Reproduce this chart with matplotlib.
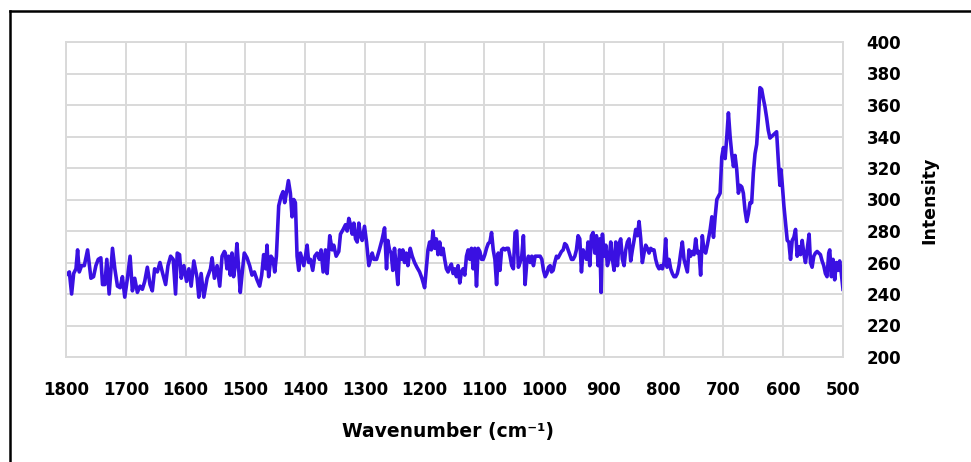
import matplotlib
matplotlib.use("Agg")
import matplotlib.pyplot as plt
from matplotlib.lines import Line2D

# spectrum, split into stretches of the x axis
wn_1800_1535 = [1800, 1794.4, 1790.6, 1787.2, 1783.3, 1780.6, 1777.8, 1773.9, 1769.4, 1763.9,
                1758.3, 1753.9, 1750, 1746.1, 1741.7, 1738.9, 1735, 1731.7, 1727.8, 1722.2,
                1718.3, 1713.9, 1709.4, 1705.6, 1701.7, 1697.2, 1692.8, 1688.9, 1685, 1680.6,
                1676.1, 1672.2, 1668.3, 1663.9, 1659.4, 1655.6, 1651.7, 1647.2, 1642.8, 1638.9,
                1633.3, 1629.4, 1625, 1620.6, 1616.7, 1613.9, 1610, 1607.2, 1602.8, 1598.3,
                1594.4, 1590.6, 1586.1, 1580.6, 1577.8, 1573.9, 1569.4, 1563.9, 1558.3, 1555.6,
                1551.7, 1547.2, 1542.8, 1538.9, 1535]
int_1800_1535 = [252, 254, 240, 253, 256, 268, 254, 258, 258, 268,
                 250, 251, 258, 262, 263, 246, 246, 262, 240, 269,
                 256, 245, 244, 251, 238, 250, 264, 242, 250, 241,
                 245, 243, 248, 257, 246, 242, 256, 254, 260, 254,
                 246, 258, 264, 262, 240, 266, 265, 250, 258, 248,
                 256, 245, 261, 250, 238, 253, 238, 250, 256, 263,
                 250, 258, 245, 264, 267]

wn_1535_1262 = [1533.5, 1530.7, 1527.9, 1525.1, 1522.3, 1519.6, 1516.8, 1514, 1511.2, 1508.4,
                1505.6, 1501.7, 1497.2, 1492.7, 1488.8, 1484.9, 1480.4, 1476, 1472.6, 1469.3,
                1465.9, 1463.7, 1460.9, 1457, 1453.6, 1450.8, 1448, 1444.1, 1440.2, 1436.9,
                1434.1, 1431.3, 1427.9, 1424.6, 1421.8, 1419, 1416.2, 1413.4, 1410.6, 1407.8,
                1405, 1402.2, 1399.4, 1396.6, 1393.9, 1391.1, 1387.2, 1383.8, 1379.9, 1376,
                1373.2, 1369.8, 1365.9, 1363.1, 1358.7, 1354.7, 1352, 1348, 1343.6, 1340.8,
                1336.3, 1332.4, 1329.6, 1326.8, 1324, 1321.2, 1318.4, 1315.6, 1312.8, 1310.1,
                1307.3, 1304.5, 1300.6, 1297.2, 1293.3, 1290.5, 1287.7, 1284.9, 1280.4, 1276.5,
                1270.9, 1267, 1263.7]
int_1535_1262 = [266, 256, 264, 252, 266, 251, 258, 272, 256, 241,
                 252, 266, 263, 258, 252, 254, 249, 245, 252, 265,
                 256, 271, 251, 264, 262, 254, 264, 296, 302, 305,
                 298, 304, 312, 304, 289, 300, 298, 264, 255, 266,
                 262, 258, 264, 271, 260, 262, 255, 264, 266, 262,
                 268, 254, 268, 253, 277, 268, 271, 264, 267, 278,
                 281, 284, 280, 288, 284, 278, 285, 275, 273, 285,
                 277, 274, 283, 273, 258, 262, 266, 262, 262, 267,
                 275, 282, 256]

wn_1262_990 = [1261.6, 1258.8, 1256, 1253.2, 1250.4, 1247.6, 1244.8, 1242, 1239.2, 1236.4,
               1233.6, 1230.8, 1228, 1224.1, 1220.7, 1216.8, 1212.9, 1208.4, 1204.5, 1200,
               1197.2, 1194.4, 1191.6, 1188.8, 1186, 1183.2, 1180.4, 1177.6, 1174.8, 1172,
               1169.2, 1166.4, 1163.6, 1160.8, 1158, 1155.2, 1152.4, 1149.6, 1146.8, 1144,
               1141.2, 1138.4, 1135.6, 1132.8, 1130, 1127.2, 1124.4, 1121.6, 1118.8, 1116,
               1113.2, 1110.4, 1107.6, 1104.8, 1102, 1099.2, 1096.4, 1093.6, 1090.8, 1088,
               1085.2, 1082.4, 1079.6, 1076.8, 1074, 1071.2, 1068.3, 1065.5, 1062.7, 1059.9,
               1057.1, 1054.3, 1051.5, 1048.7, 1045.9, 1043.1, 1040.3, 1037.5, 1034.7, 1031.9,
               1029.1, 1026.3, 1023.5, 1020.7, 1017.9, 1015.1, 1012.3, 1009.5, 1006.7, 1003.9,
               1001.1, 998.3, 995.5, 992.7, 989.9]
int_1262_990 = [274, 268, 266, 255, 269, 258, 246, 268, 262, 268,
                260, 266, 258, 269, 264, 260, 257, 254, 250, 244,
                256, 268, 273, 268, 280, 269, 275, 265, 273, 265,
                269, 262, 256, 254, 257, 259, 253, 256, 251, 258,
                247, 254, 256, 252, 264, 268, 262, 269, 256, 269,
                245, 269, 267, 262, 262, 265, 269, 272, 273, 279,
                268, 262, 246, 266, 255, 268, 269, 268, 269, 269,
                264, 258, 256, 279, 280, 257, 260, 264, 277, 246,
                260, 264, 260, 264, 258, 264, 264, 264, 264, 262,
                255, 251, 253, 257, 258]

wn_990_725 = [987.7, 985, 982.2, 979.4, 976.6, 973.8, 971, 968.2, 965.5, 962.7,
              959.9, 957.1, 954.3, 951.5, 948.7, 946, 943.2, 940.4, 937.6, 934.8,
              932, 929.2, 926.5, 923.7, 920.9, 918.1, 915.3, 912.5, 909.7, 907,
              904.7, 902.5, 899.7, 896.9, 894.2, 891.4, 888.6, 885.8, 883, 880.2,
              877.4, 874.7, 871.9, 869.1, 866.3, 863.5, 860.7, 857.9, 855.2, 852.4,
              849.6, 846.8, 844, 841.2, 838.4, 835.7, 832.9, 830.1, 827.3, 824.5,
              821.7, 818.9, 816.2, 813.4, 810.6, 807.8, 805, 802.2, 799.4, 796.7,
              794.4, 791.1, 788.3, 785.5, 782.7, 779.9, 777.2, 774.4, 771.6, 768.8,
              766, 763.2, 760.4, 757.7, 754.9, 752.1, 749.3, 746.5, 743.7, 740.9,
              738.2, 735.4, 732.6, 729.8, 727]
int_990_725 = [254, 255, 260, 264, 263, 265, 267, 268, 272, 271,
               268, 265, 262, 262, 264, 268, 277, 275, 254, 268,
               265, 262, 273, 258, 277, 279, 266, 277, 258, 275,
               241, 278, 264, 271, 258, 262, 273, 262, 255, 273,
               258, 272, 275, 262, 258, 268, 273, 275, 261, 268,
               274, 281, 277, 286, 275, 260, 266, 271, 269, 266,
               269, 268, 268, 262, 258, 256, 258, 256, 260, 275,
               257, 262, 256, 253, 251, 251, 253, 258, 266, 273,
               262, 258, 254, 268, 264, 267, 265, 275, 266, 267,
               252, 277, 268, 266, 271]

wn_725_500 = [722.2, 719.4, 716.7, 713.9, 711.1, 708.3, 705.6, 702.8, 700, 697.2,
              694.4, 691.7, 688.9, 686.1, 683.3, 680.6, 677.8, 675, 672.2, 669.4,
              666.7, 663.9, 661.1, 658.3, 655.6, 652.8, 650, 647.2, 644.4, 641.7,
              638.9, 636.1, 633.3, 630.6, 627.8, 625, 622.2, 619.4, 616.7, 613.9,
              611.1, 608.3, 605.6, 603.9, 601.7, 598.9, 596.1, 593.3, 590.6, 587.8,
              585, 582.2, 579.4, 576.7, 573.9, 571.1, 568.3, 565.6, 562.8, 560,
              556.7, 554.4, 551.7, 548.9, 546.1, 543.3, 540.6, 537.8, 535, 532.2,
              529.4, 526.7, 523.9, 522.2, 519.4, 516.7, 513.9, 511.1, 508.3, 505.6,
              502.8, 500]
int_725_500 = [281, 289, 276, 289, 300, 302, 304, 327, 333, 326,
               340, 355, 340, 329, 321, 328, 319, 304, 309, 308,
               304, 293, 286, 291, 298, 298, 317, 329, 335, 351,
               371, 370, 364, 359, 352, 344, 339, 340, 341, 342,
               343, 325, 309, 319, 310, 296, 285, 274, 273, 262,
               274, 276, 281, 264, 270, 265, 274, 266, 260, 268,
               278, 260, 257, 264, 266, 267, 266, 265, 261, 258,
               253, 251, 266, 268, 251, 262, 249, 260, 255, 261,
               253, 243]

x_ticks = [1800, 1700, 1600, 1500, 1400, 1300, 1200, 1100, 1000, 900, 800, 700, 600, 500]
y_ticks = [200, 220, 240, 260, 280, 300, 320, 340, 360, 380, 400]

wavenumber = wn_1800_1535 + wn_1535_1262 + wn_1262_990 + wn_990_725 + wn_725_500
intensity = int_1800_1535 + int_1535_1262 + int_1262_990 + int_990_725 + int_725_500

GRID = "#D9D9D9"
LINE = "#3A10E2"

fig = plt.figure(figsize=(9.71, 4.62), dpi=100)
ax = fig.add_axes([66 / 971, 1 - 357 / 462, 777 / 971, 315 / 462])

ax.plot(wavenumber, intensity, color=LINE, linewidth=2.6, solid_joinstyle="round")

ax.set_xlim(1800, 500)
ax.set_ylim(200, 400)
ax.set_xticks(x_ticks)
ax.set_yticks(y_ticks)
ax.yaxis.tick_right()
ax.grid(True, color=GRID, linewidth=1.4)
ax.set_axisbelow(True)
for sp in ax.spines.values():
    sp.set_color(GRID)
    sp.set_linewidth(1.4)
ax.tick_params(axis="both", length=0, labelsize=12)
ax.tick_params(axis="x", pad=17)
ax.tick_params(axis="y", pad=17)
for lab in ax.get_xticklabels() + ax.get_yticklabels():
    lab.set_fontweight("bold")

fig.text(448 / 971, 1 - 431 / 462, "Wavenumber (cm⁻¹)", ha="center", va="center",
         fontsize=13.5, fontweight="bold")
fig.text(929 / 971, 1 - 200 / 462, "Intensity", ha="center", va="center",
         rotation=90, fontsize=12.5, fontweight="bold")

# frame lines at the left and top edge of the picture
fig.add_artist(Line2D([10 / 971, 10 / 971], [0, 1 - 11 / 462], color="black",
                      linewidth=1.8, transform=fig.transFigure))
fig.add_artist(Line2D([10 / 971, 1], [1 - 11 / 462, 1 - 11 / 462], color="black",
                      linewidth=1.8, transform=fig.transFigure))

fig.savefig("out.png", dpi=100)
